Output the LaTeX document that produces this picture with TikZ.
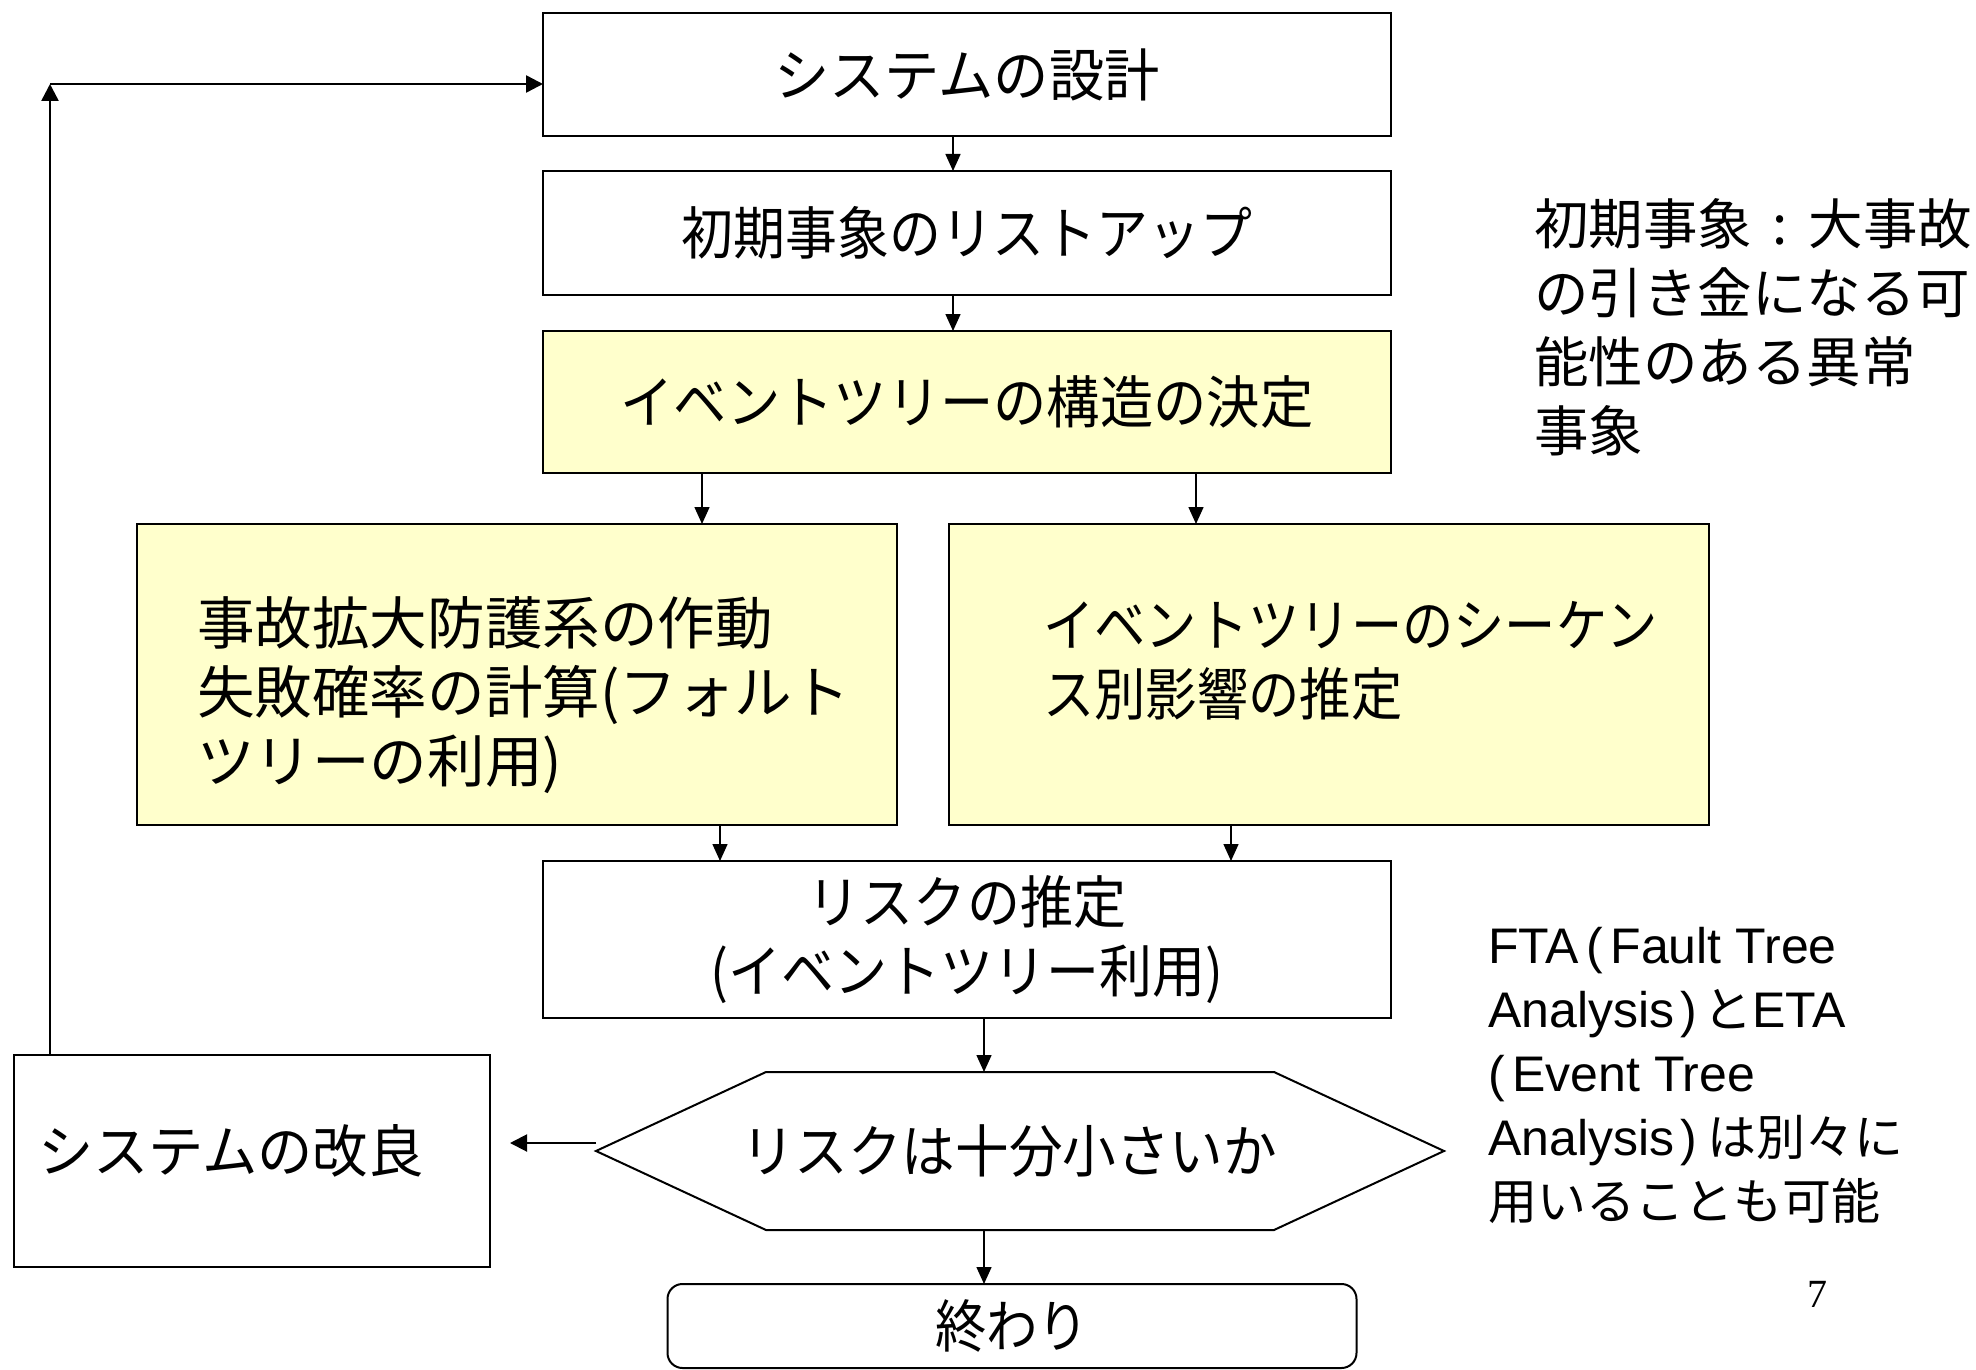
\documentclass[tikz,border=0pt]{standalone}
\usepackage{fontspec}
\setmainfont{Noto Sans CJK JP}
\newfontfamily\lat{Liberation Sans}
\newfontfamily\ser{Liberation Serif}
\usetikzlibrary{arrows.meta,calc}
\definecolor{boxyellow}{HTML}{FFFFCC}
\newcommand{\bfnt}[1]{\fontsize{57}{69}\selectfont\addfontfeature{FakeStretch=#1}}
\begin{document}
\begin{tikzpicture}[x=1pt,y=-1pt,
  box/.style={draw, line width=2pt, minimum width=848pt, inner sep=0pt, outer sep=0pt, align=center},
  ybox/.style={box, fill=boxyellow},
  btext/.style={inner sep=0pt, align=left},
  arr/.style={-{Triangle[length=17pt,width=15pt]}, line width=1.5pt},
  arrL/.style={-{Triangle[length=17pt,width=17pt]}, line width=2.5pt},
  note/.style={inner sep=0pt, align=left}]
\useasboundingbox (0,0) rectangle (1976,1370);
\fill[white] (0,0) rectangle (1976,1370);

% boxes
\node[box, minimum height=123pt, font=\bfnt{0.97}] (b1) at (967,74.5) {システムの設計};
\node[box, minimum height=124pt, font=\bfnt{0.91}] (b2) at (967,233) {初期事象のリストアップ};
\node[ybox, minimum height=142pt, font=\bfnt{0.935}] (b3) at (967,402) {イベントツリーの構造の決定};
\node[ybox, minimum width=760pt, minimum height=301pt] (b4) at (517,674.5) {};
\node[btext, anchor=west, font=\bfnt{1.01}] (t4) at (197,695) {事故拡大防護系の作動\\失敗確率の計算(フォルト\\ツリーの利用)};
\node[ybox, minimum width=760pt, minimum height=301pt] (b5) at (1329,674.5) {};
\node[btext, anchor=west, font=\bfnt{0.9}] (t5) at (1043,661) {イベントツリーのシーケン\\ス別影響の推定};
\node[box, minimum height=157pt, font=\bfnt{0.93}] (b6) at (967,939.5) {リスクの推定\\(イベントツリー利用)};

% hexagon decision
\node[minimum width=848pt, minimum height=158pt, inner sep=0pt, outer sep=0pt] (hex) at (1020,1151) {};
\draw[line width=2pt] (hex.west) -- ($(hex.north west)+(170,0)$) -- ($(hex.north east)+(-170,0)$)
  -- (hex.east) -- ($(hex.south east)+(-170,0)$) -- ($(hex.south west)+(170,0)$) -- cycle;
\node[btext, font=\bfnt{0.94}] (ht) at (1009,1151) {リスクは十分小さいか};

% improvement box
\node[box, minimum width=476pt, minimum height=212pt] (kai) at (252,1161) {};
\node[btext, anchor=west, font=\bfnt{0.97}] (kt) at (38,1151) {システムの改良};

% end box
\node[box, rounded corners=15pt, minimum width=689pt, minimum height=84pt, font=\bfnt{0.9}] (fin) at (1012,1326) {終わり};

% arrow x positions
\coordinate (xa) at (953,0);
\coordinate (xb) at (702,0);
\coordinate (xc) at (1196,0);
\coordinate (xd) at (720,0);
\coordinate (xe) at (1231,0);
\coordinate (xf) at (984,0);
\coordinate (ay) at (0,1143);
\coordinate (lc) at (50,84);

\draw[arr] (b1.south -| xa) -- (b2.north -| xa);
\draw[arr] (b2.south -| xa) -- (b3.north -| xa);
\draw[arr] (b3.south -| xb) -- (b4.north -| xb);
\draw[arr] (b3.south -| xc) -- (b5.north -| xc);
\draw[arr] (b4.south -| xd) -- (b6.north -| xd);
\draw[arr] (b5.south -| xe) -- (b6.north -| xe);
\draw[arr] (b6.south -| xf) -- (hex.north -| xf);
\draw[arr] (hex.south -| xf) -- (fin.north -| xf);
\draw[-{Triangle[length=17pt,width=17pt]}, line width=2pt] (hex.west |- ay) -- ($(kai.east |- ay)+(20,0)$);

% feedback loop
\draw[arrL] (kai.north -| lc) -- (lc);
\draw[arrL] (lc) -- (b1.west |- lc);

% notes
\node[note, anchor=west, font=\fontsize{54.5}{69}\selectfont] (n1) at (1534,327.5)
  {初期事象\kern0.38em:\kern0.38em 大事故\\の引き金になる可\\能性のある異常\\事象};
\node[note, anchor=west, font=\fontsize{49}{64}\selectfont] (n2) at (1488,1075.5)
  {{\lat\fontsize{50}{64}\selectfont FTA\kern.15em(\kern.15em Fault Tree}\\{\lat\fontsize{50}{64}\selectfont Analysis\kern.12em)\kern.12em}と{\lat\fontsize{50}{64}\selectfont ETA}\\{\lat\fontsize{50}{64}\selectfont (\kern.15em Event Tree}\\{\lat\fontsize{50}{64}\selectfont Analysis\kern.12em)\kern.2em}は別々に\\用いることも可能};

\node[inner sep=0pt, font=\ser\fontsize{40}{40}\selectfont] (pg) at (1817,1294) {7};
\end{tikzpicture}
\end{document}
